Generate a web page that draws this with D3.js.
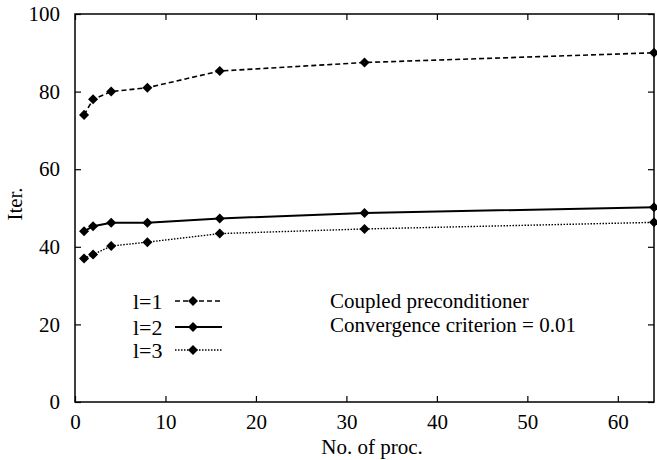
<!DOCTYPE html>
<html>
<head>
<meta charset="utf-8">
<script src="https://cdn.jsdelivr.net/npm/d3@7"></script>
<style>
  body { margin: 0; background: #fff; }
  text { font-family: "Liberation Serif", "Times New Roman", serif; fill: #000; }
</style>
</head>
<body>
<div id="chart"></div>
<script>
// data
var procs = [1, 2, 4, 8, 16, 32, 64]
var iterL1 = [74, 78, 80, 81, 85.3, 87.5, 90]
var iterL2 = [44, 45.3, 46.2, 46.2, 47.3, 48.7, 50.2]
var iterL3 = [37, 38, 40.2, 41.2, 43.4, 44.6, 46.3]
var seriesNames = ['l=1', 'l=2', 'l=3']
var xTicks = [0, 10, 20, 30, 40, 50, 60]
var yTicks = [0, 20, 40, 60, 80, 100]
var noteLines = ['Coupled preconditioner', 'Convergence criterion = 0.01']

var width = 657,
    height = 460,
    plotLeft = 75,
    plotRight = 654,
    plotTop = 14,
    plotBottom = 402

var svg = d3.select('#chart')
  .append('svg')
    .attr('width', width)
    .attr('height', height)

var x = d3.scaleLinear().domain([0, 64]).range([plotLeft, plotRight])
var y = d3.scaleLinear().domain([0, 100]).range([plotBottom, plotTop])

// frame
svg.append('rect')
  .attr('x', plotLeft)
  .attr('y', plotTop)
  .attr('width', plotRight - plotLeft)
  .attr('height', plotBottom - plotTop)
  .attr('fill', 'none')
  .attr('stroke', '#000')
  .attr('stroke-width', 1.5)

// axes, ticks inward and mirrored
var tickLen = 6
svg.append('g')
  .attr('transform', 'translate(0,' + plotBottom + ')')
  .call(d3.axisBottom(x).tickValues(xTicks).tickSize(-tickLen).tickPadding(12))
svg.append('g')
  .attr('transform', 'translate(0,' + plotTop + ')')
  .call(d3.axisTop(x).tickValues(xTicks).tickSize(-tickLen).tickFormat(''))
svg.append('g')
  .attr('transform', 'translate(' + plotLeft + ',0)')
  .call(d3.axisLeft(y).tickValues(yTicks).tickSize(-tickLen).tickPadding(15))
svg.append('g')
  .attr('transform', 'translate(' + plotRight + ',0)')
  .call(d3.axisRight(y).tickValues(yTicks).tickSize(-tickLen).tickFormat(''))

svg.selectAll('g')
  .attr('font-family', null)
  .attr('font-size', null)
svg.selectAll('.domain').remove()
svg.selectAll('.tick line').attr('stroke', '#000').attr('stroke-width', 1.2)
svg.selectAll('.tick text')
  .attr('fill', '#000')
  .style('font-size', '21px')

// axis titles
svg.append('text')
  .attr('x', 372)
  .attr('y', 454)
  .attr('text-anchor', 'middle')
  .style('font-size', '21px')
  .text('No. of proc.')

svg.append('text')
  .attr('transform', 'translate(22,204) rotate(-90)')
  .attr('text-anchor', 'middle')
  .style('font-size', '21px')
  .text('Iter.')

// series
var styles = [
  { dash: '5,3', w: 1.6 },
  { dash: null, w: 2 },
  { dash: '1.5,1.5', w: 1.4 }
]
var allSeries = [iterL1, iterL2, iterL3].map(function(vals, i) {
  return { name: seriesNames[i], style: styles[i],
    pts: procs.map(function(p, j) { return { x: p, y: vals[j] } }) }
})

var line = d3.line()
  .x(function(d) { return x(d.x) })
  .y(function(d) { return y(d.y) })

var diamond = d3.symbol().type(d3.symbolDiamond2).size(64)

allSeries.forEach(function(s) {
  svg.append('path')
    .attr('d', line(s.pts))
    .attr('fill', 'none')
    .attr('stroke', '#000')
    .attr('stroke-width', s.style.w)
    .attr('stroke-dasharray', s.style.dash)
  svg.selectAll(null)
    .data(s.pts).enter()
    .append('path')
      .attr('d', diamond)
      .attr('transform', function(d) { return 'translate(' + x(d.x) + ',' + y(d.y) + ')' })
      .attr('fill', '#000')
})

// legend
var legY = [301, 327, 350]
allSeries.forEach(function(s, i) {
  svg.append('text')
    .attr('x', 133)
    .attr('y', legY[i] + 8)
    .style('font-size', '22px')
    .text(s.name)
  svg.append('line')
    .attr('x1', 175).attr('x2', 222)
    .attr('y1', legY[i]).attr('y2', legY[i])
    .attr('stroke', '#000')
    .attr('stroke-width', s.style.w)
    .attr('stroke-dasharray', s.style.dash)
  svg.append('path')
    .attr('d', diamond)
    .attr('transform', 'translate(193,' + legY[i] + ')')
    .attr('fill', '#000')
})

// note text
noteLines.forEach(function(t, i) {
  svg.append('text')
    .attr('x', 330)
    .attr('y', 308 + i * 24)
    .style('font-size', '21px')
    .text(t)
})
</script>
</body>
</html>
